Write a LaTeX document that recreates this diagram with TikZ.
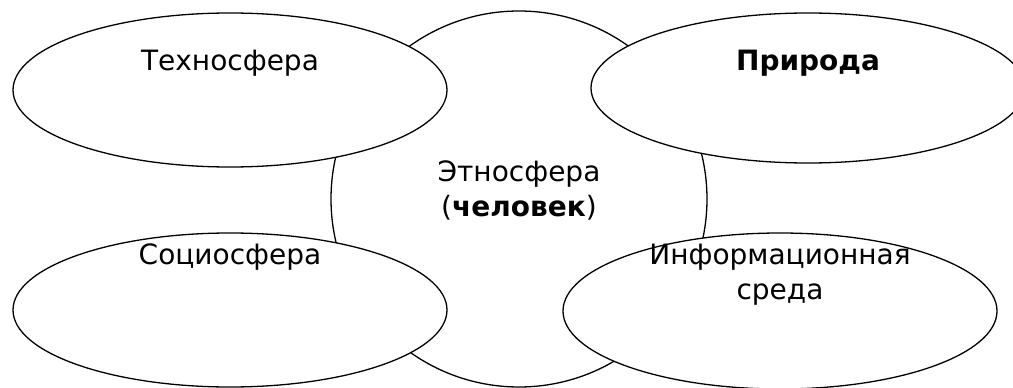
\documentclass[tikz,border=0pt]{standalone}
\usepackage{fontspec}
\setmainfont{DejaVu Sans}
\usetikzlibrary{shapes.geometric,positioning}

\begin{document}
\begin{tikzpicture}[x=1pt,y=-1pt]
\tikzset{sfera/.style={draw, ellipse, fill=white, line width=1.3pt, inner sep=0pt, minimum width=434pt, minimum height=154pt}}
\tikzset{nadpis/.style={font=\fontsize{28}{35}\selectfont, align=center, inner sep=0pt}}
\useasboundingbox (0,0) rectangle (1013,388);
\node[sfera, minimum width=376pt, minimum height=376pt] (E) at (519,199) {};
\node[sfera] (T) at (230,90) {};
\node[sfera, minimum height=150pt] (P) at (808,88) {};
\node[sfera] (S) at (230,310) {};
\node[sfera, minimum height=156pt] (I) at (780,311) {};
\node[nadpis] (tE) at (519,190) {Этносфера\\(\textbf{человек})};
\node[nadpis] (tT) at (230,63) {Техносфера};
\node[nadpis] (tP) at (808,63) {\textbf{Природа}};
\node[nadpis] (tS) at (230,257) {Социосфера};
\node[nadpis] (tI) at (780,275) {Информационная\\среда};
\end{tikzpicture}
\end{document}
